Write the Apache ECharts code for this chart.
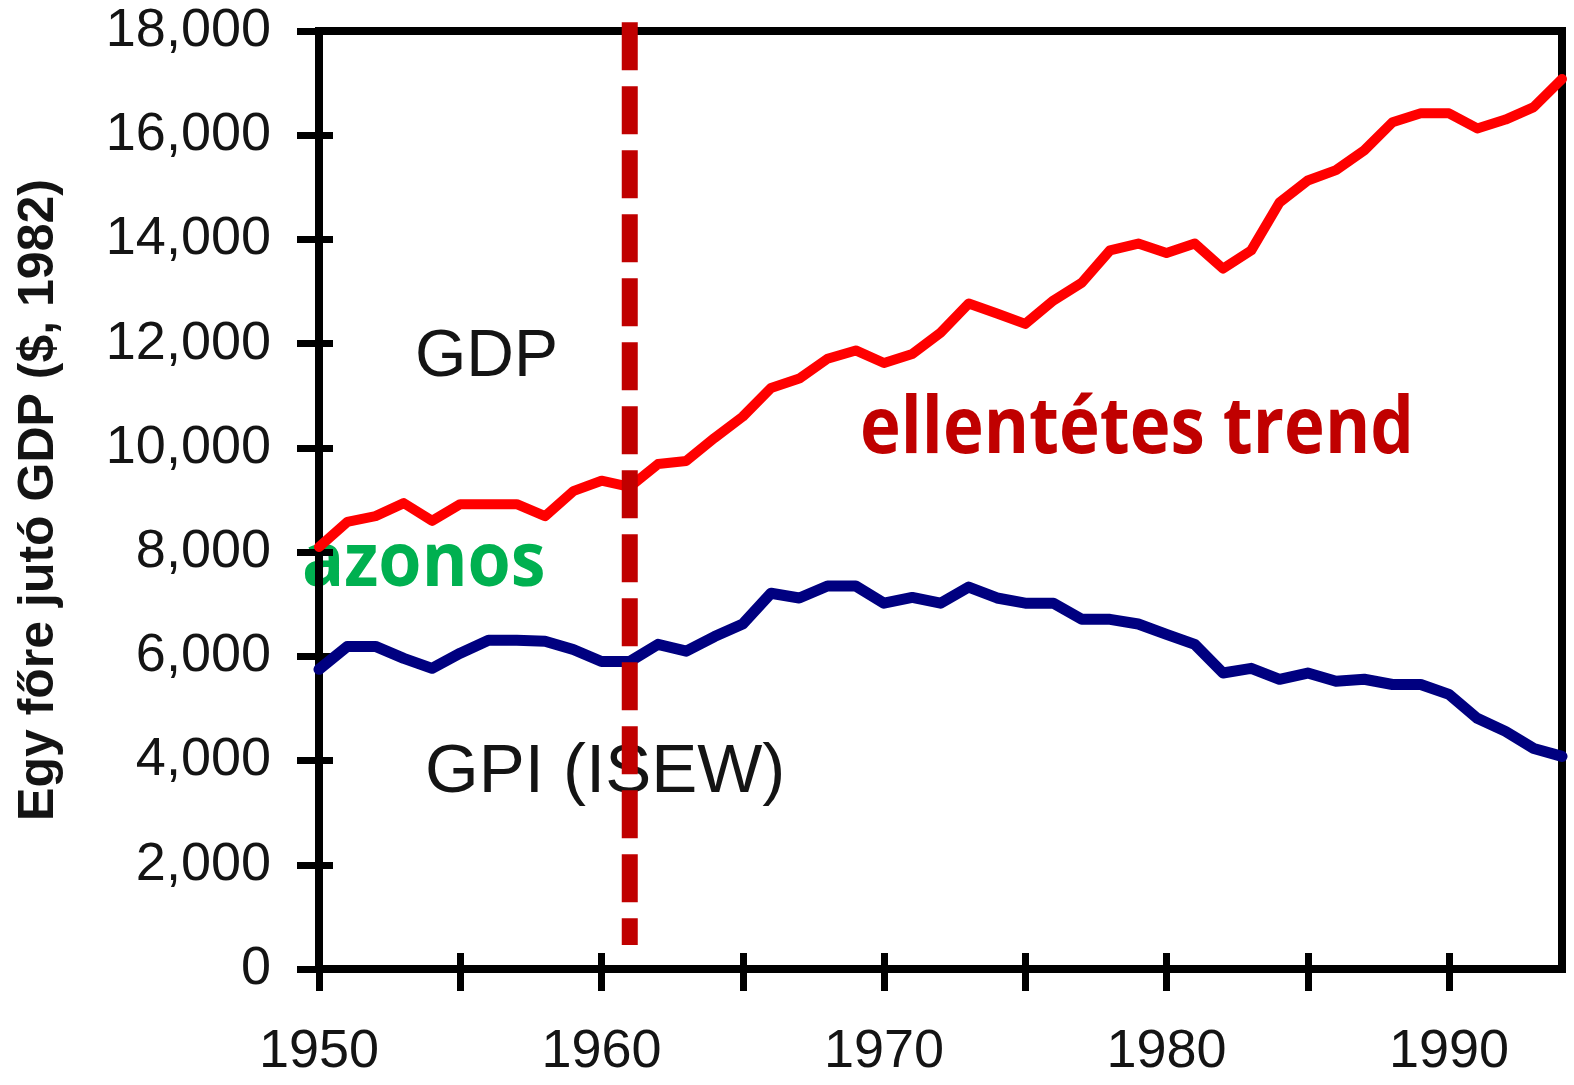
<!DOCTYPE html>
<html>
<head>
<meta charset="utf-8">
<script src="https://cdn.jsdelivr.net/npm/echarts@6/dist/echarts.min.js"></script>
<style>
html,body{margin:0;padding:0;background:#fff;}
#chart{width:1574px;height:1085px;}
</style>
</head>
<body>
<div id="chart"></div>
<script>
var years = [1950,1951,1952,1953,1954,1955,1956,1957,1958,1959,1960,1961,1962,1963,1964,1965,1966,1967,1968,1969,1970,1971,1972,1973,1974,1975,1976,1977,1978,1979,1980,1981,1982,1983,1984,1985,1986,1987,1988,1989,1990,1991,1992,1993,1994];
var gdp = [8100,8580,8690,8940,8600,8920,8920,8920,8690,9170,9370,9250,9690,9750,10190,10600,11150,11330,11710,11870,11630,11800,12210,12770,12580,12380,12830,13170,13790,13920,13740,13920,13440,13790,14710,15130,15330,15710,16250,16420,16420,16130,16300,16540,17080];
var gpi = [5750,6190,6190,5960,5770,6060,6310,6310,6290,6130,5900,5900,6230,6100,6380,6620,7210,7120,7350,7350,7020,7130,7020,7330,7120,7020,7020,6710,6710,6620,6420,6230,5680,5770,5560,5680,5520,5560,5460,5460,5270,4810,4560,4230,4080];
var dividerX = [1961, 1961];
var dividerY = [18170, 460];
var yTitle = 'Egy főre jutó GDP ($, 1982)';

function pairs(xs, ys){ return xs.map(function(x,i){ return [x, ys[i]]; }); }

var chart = echarts.init(document.getElementById('chart'));
var axisFont = {fontFamily:'Liberation Sans, Arial, sans-serif', fontSize:54, color:'#141414'};
chart.setOption({
  animation:false,
  grid:{left:319, right:12, top:31, bottom:116, show:true, borderColor:'#000', borderWidth:8, backgroundColor:'transparent'},
  xAxis:[{
    type:'value', min:1950, max:1994, interval:5, position:'bottom',
    axisLine:{show:true, onZero:false, lineStyle:{color:'#000', width:8}},
    axisTick:{show:true, inside:false, length:22, lineStyle:{color:'#000', width:7}},
    axisLabel:Object.assign({margin:56, showMaxLabel:false, formatter:function(v){ return v % 10 === 0 ? String(v) : ''; }}, axisFont),
    splitLine:{show:false}, z:3
  },{
    type:'value', min:1950, max:1994, interval:5, position:'bottom',
    axisLine:{show:false}, axisLabel:{show:false}, splitLine:{show:false},
    axisTick:{show:true, inside:true, length:16, lineStyle:{color:'#000', width:7}}, z:3
  }],
  yAxis:[{
    type:'value', min:0, max:18000, interval:2000,
    axisLine:{show:true, onZero:false, lineStyle:{color:'#000', width:8}},
    axisTick:{show:true, inside:false, length:22, lineStyle:{color:'#000', width:7}},
    axisLabel:Object.assign({margin:48, formatter:function(v){ return v.toLocaleString('en-US'); }}, axisFont),
    splitLine:{show:false},
    name:yTitle, nameLocation:'middle', nameGap:255,
    nameTextStyle:{fontFamily:'Liberation Sans, Arial, sans-serif', fontSize:50, fontWeight:'bold', color:'#141414'},
    z:3
  },{
    type:'value', min:0, max:18000, interval:2000, position:'left',
    axisLine:{show:false}, axisLabel:{show:false}, splitLine:{show:false},
    axisTick:{show:true, inside:true, length:14, lineStyle:{color:'#000', width:7}}, z:3
  }],
  series:[{
    name:'GDP', type:'line', data:pairs(years, gdp), showSymbol:false, clip:false,
    lineStyle:{color:'#ff0000', width:10, join:'round', cap:'round'}, z:4
  },{
    name:'GPI', type:'line', data:pairs(years, gpi), showSymbol:false, clip:false,
    lineStyle:{color:'#000080', width:11, join:'round', cap:'round'}, z:4
  },{
    name:'divider', type:'line', data:pairs(dividerX, dividerY), showSymbol:false, clip:false, silent:true,
    lineStyle:{color:'#c00000', width:16, type:[48,16], cap:'butt'}, z:5
  }],
  graphic:[
    {type:'text', x:415, y:358, z:-1, style:{text:'GDP', x:0, y:0, textAlign:'left', textVerticalAlign:'middle', font:'66px "Liberation Sans", Arial, sans-serif', fill:'#141414'}},
    {type:'text', x:425, y:773, z:-1, style:{text:'GPI (ISEW)', x:0, y:0, textAlign:'left', textVerticalAlign:'middle', font:'69px "Liberation Sans", Arial, sans-serif', fill:'#141414'}},
    {type:'text', x:860, y:431, z:-1, scaleX:0.885, style:{text:'ellentétes trend', x:0, y:0, textAlign:'left', textVerticalAlign:'middle', font:'bold 78px "Open Sans", sans-serif', fill:'#c00000'}},
    {type:'text', x:302, y:564, z:-1, scaleX:0.92, style:{text:'azonos', x:0, y:0, textAlign:'left', textVerticalAlign:'middle', font:'bold 76px "Open Sans", sans-serif', fill:'#00b050'}}
  ]
});
</script>
</body>
</html>
